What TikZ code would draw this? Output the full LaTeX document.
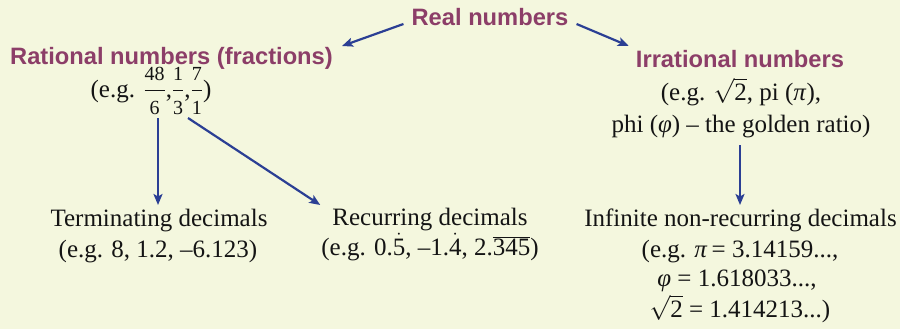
\documentclass[tikz,border=0pt]{standalone}
\usepackage{fontspec}
\setmainfont{Liberation Serif}
\newfontfamily\headfont{Liberation Sans}
\usetikzlibrary{arrows.meta}
\definecolor{bgc}{RGB}{244,247,222}
\definecolor{headc}{RGB}{140,62,104}
\definecolor{arrc}{RGB}{43,63,148}
\newcommand{\myfr}[2]{$\displaystyle{\mbox{\fontsize{20}{20}\selectfont #1}\above1.3pt\mbox{\fontsize{20}{20}\selectfont #2}}$}
\newcommand{\mysq}{$\sqrt{\mbox{2}}$}
\begin{document}
\begin{tikzpicture}[x=1pt,y=-1pt,
  every node/.style={inner sep=0pt,anchor=base},
  head/.style={font=\headfont\bfseries\fontsize{23.7}{28}\selectfont,text=headc},
  body/.style={font=\fontsize{25}{30}\selectfont,text=black!92},
  arr/.style={draw=arrc,line width=2.2pt,-{Stealth[length=11pt,width=9pt,inset=2.5pt]}}]
\fill[bgc] (0,0) rectangle (900,329);
\useasboundingbox (0,0) rectangle (900,329);
\node[head] (real) at (490,26) {Real numbers};
\node[head] (rat) at (171.5,65) {Rational numbers (fractions)};
\node[body] (ratex) at (151,97) {(e.g. \myfr{48}{6},\myfr{1}{3},\myfr{7}{1})};
\node[head] (irr) at (740,68) {Irrational numbers};
\node[body] (irrexa) at (741,100) {(e.g. \mysq, pi (\textit{π}),};
\node[body] (irrexb) at (741,132) {phi (\textit{φ}) – the golden ratio)};
\node[body] (term) at (159,226) {Terminating decimals};
\node[body] (termex) at (158,257) {(e.g. 8, 1.2, –6.123)};
\node[body] (rec) at (430,225) {Recurring decimals};
\node[body] (recex) at (430,255) {(e.g. 0.$\dot{\mbox{5}}$, –1.$\dot{\mbox{4}}$, 2.$\overline{\mbox{345}}$)};
\node[body] (inf) at (740.5,226) {Infinite non-recurring decimals};
\node[body] (infa) at (740,257) {(e.g. \textit{π}\,= 3.14159...,};
\node[body] (infb) at (737,286) {\textit{φ} = 1.618033...,};
\node[body] (infc) at (740,317) {\mysq{} = 1.414213...)};
\draw[arr] ([xshift=-8pt,yshift=2pt]real.base west) -- ([xshift=9pt,yshift=19pt]rat.base east);
\draw[arr] ([xshift=8pt,yshift=2pt]real.base east) -- ([xshift=-7pt,yshift=22pt]irr.base west);
\draw[arr] ([xshift=7pt,yshift=-21pt]ratex.base) -- ([xshift=-1pt,yshift=21pt]term.base);
\draw[arr] ([xshift=37pt,yshift=-21pt]ratex.base) -- ([xshift=-12pt,yshift=20pt]rec.base west);
\draw[arr] ([xshift=-1pt,yshift=-13pt]irrexb.base) -- ([xshift=-0.5pt,yshift=21pt]inf.base);
\end{tikzpicture}
\end{document}
